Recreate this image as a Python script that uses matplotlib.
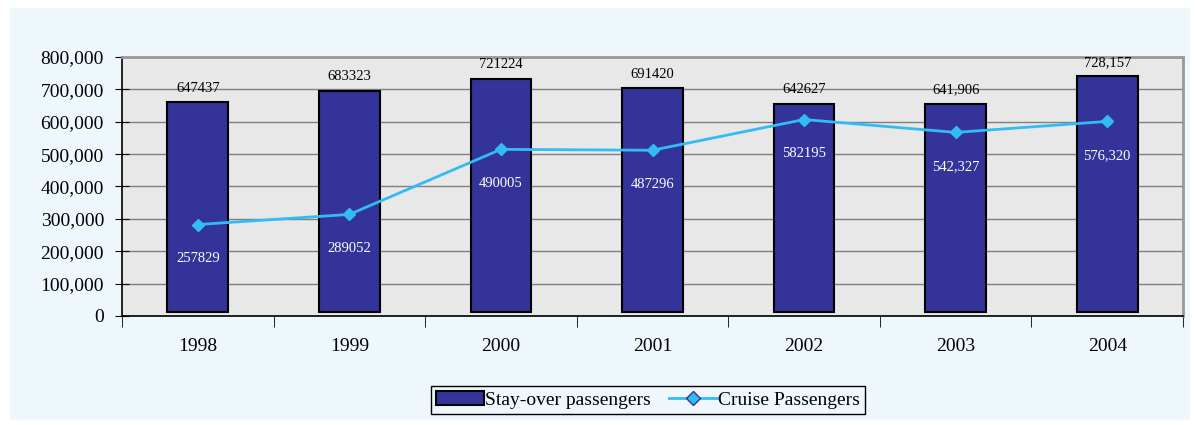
import matplotlib
matplotlib.use("Agg")
import matplotlib.pyplot as plt
from matplotlib.patches import Rectangle, Patch
from matplotlib.lines import Line2D
from matplotlib.ticker import FuncFormatter, MultipleLocator
from matplotlib.transforms import ScaledTranslation

years = ["1998", "1999", "2000", "2001", "2002", "2003", "2004"]
stay_over = [647437, 683323, 721224, 691420, 642627, 641906, 728157]
cruise = [257829, 289052, 490005, 487296, 582195, 542327, 576320]
stay_labels = ["647437", "683323", "721224", "691420", "642627", "641,906", "728,157"]
cruise_labels = ["257829", "289052", "490005", "487296", "582195", "542,327", "576,320"]

plt.rcParams['font.family'] = ['Liberation Serif', 'DejaVu Serif']

fig = plt.figure(figsize=(11.95, 4.25), dpi=100, facecolor='white')
fig.patches.append(Rectangle((10/1195, 5/425), 1180/1195, 412/425, transform=fig.transFigure,
                             facecolor='#eef8fc', edgecolor='none', zorder=-10))

ax = fig.add_axes([122/1195, 109/425, 1061/1195, 259/425])
ax.set_zorder(1)
ax.set_facecolor('#e8e8e8')
x = list(range(len(years)))

# pseudo-3D depth offsets (pixels upward)
bar_shift = ScaledTranslation(0, 4/100, fig.dpi_scale_trans)
line_shift = ScaledTranslation(0, 8/100, fig.dpi_scale_trans)

bars = ax.bar(x, stay_over, width=0.4, color='#333399', edgecolor='black', linewidth=1.5, zorder=3,
              label='Stay-over passengers')
for b in bars:
    b.set_transform(ax.transData + bar_shift)
ln, = ax.plot(x, cruise, color='#33bbf5', linewidth=2, marker='D', markersize=6,
              markerfacecolor='#33bbf5', markeredgecolor='#33bbf5', zorder=4, label='Cruise Passengers')
ln.set_transform(ax.transData + line_shift)

for xi, v, t in zip(x, stay_over, stay_labels):
    ax.annotate(t, (xi, v), xytext=(0, 18), textcoords='offset pixels', ha='center', va='center',
                fontsize=10.5, color='black', zorder=5)
for xi, v, t in zip(x, cruise, cruise_labels):
    ax.annotate(t, (xi, v), xytext=(0, -26), textcoords='offset pixels', ha='center', va='center',
                fontsize=10.5, color='white', zorder=5)

ax.set_xlim(-0.5, 6.5)
ax.set_ylim(0, 800000)
ax.yaxis.set_major_locator(MultipleLocator(100000))
ax.yaxis.set_major_formatter(FuncFormatter(lambda v, p: f"{int(v):,}"))
ax.grid(axis='y', color='#808080', linewidth=1, zorder=1)
ax.set_axisbelow(True)

ax.set_xticks(x)
ax.set_xticklabels(years, fontsize=14)
ax.set_xticks([i - 0.5 for i in range(len(years) + 1)], minor=True)
ax.tick_params(axis='x', which='major', length=0, pad=16)
ax.tick_params(axis='x', which='minor', length=8, direction='out', color='black')
ax.tick_params(axis='y', labelsize=14, direction='inout', length=10, color='black', pad=8)

for s in ['top', 'right']:
    ax.spines[s].set_color('#999999')
    ax.spines[s].set_linewidth(2)
ax.spines['left'].set_color('black')
ax.spines['left'].set_linewidth(1.2)
ax.spines['bottom'].set_color('black')
ax.spines['bottom'].set_linewidth(1.2)

handles = [Patch(facecolor='#333399', edgecolor='black', linewidth=1.5),
           Line2D([], [], color='#33bbf5', linewidth=2, marker='D', markersize=7,
                  markerfacecolor='#33bbf5', markeredgecolor='#333399')]
leg = fig.legend(handles, ['Stay-over passengers', 'Cruise Passengers'], loc='center',
                 bbox_to_anchor=(648/1195, 1 - 400/425), ncol=2, fontsize=14, frameon=True,
                 fancybox=False, edgecolor='black', facecolor='#eef8fc', framealpha=1,
                 handlelength=2.5, handletextpad=0.05, columnspacing=0.9, borderpad=0.25)
leg.get_frame().set_linewidth(1)

fig.savefig('out.png', dpi=100, facecolor='white')
